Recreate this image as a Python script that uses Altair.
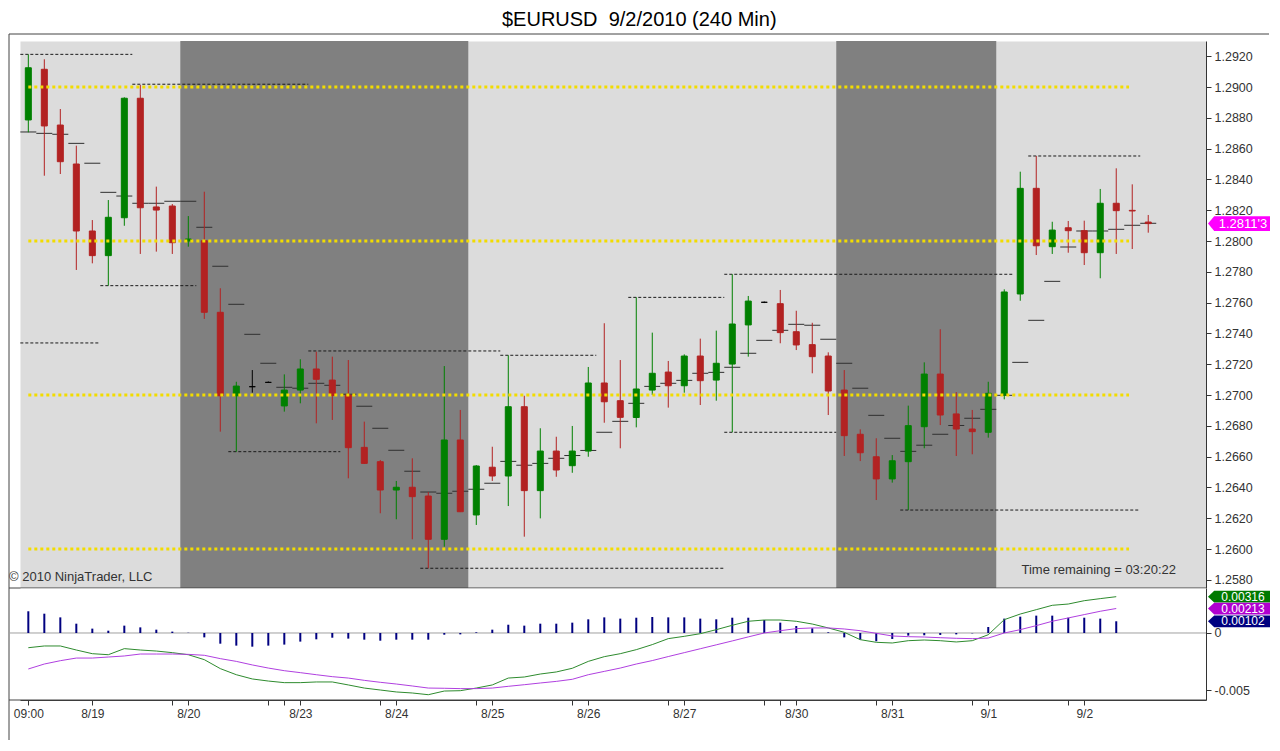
import altair as alt
import pandas as pd

# ---------------- data ----------------
bar_index = list(range(71))

opens = [1.28786, 1.29115, 1.28753, 1.28500, 1.28065, 1.27905, 1.28151, 1.28927, 1.28221, 1.28227,
         1.28000, 1.28002, 1.27537, 1.26995, 1.27054, 1.27082, 1.26929, 1.27032, 1.27169, 1.27097,
         1.27000, 1.26660, 1.26567, 1.26383, 1.26401, 1.26344, 1.26063, 1.26708, 1.26221, 1.26531,
         1.26474, 1.26924, 1.26379, 1.26636, 1.26541, 1.26636, 1.27078, 1.26963, 1.26854, 1.27032,
         1.27149, 1.27060, 1.27253, 1.27097, 1.27201, 1.27455, 1.27602, 1.27593, 1.27411, 1.27327,
         1.27253, 1.27032, 1.26745, 1.26599, 1.26455, 1.26567, 1.26794, 1.27136, 1.26877, 1.26779,
         1.26758, 1.27000, 1.27656, 1.28342, 1.27963, 1.28086, 1.28067, 1.27924, 1.28245, 1.28199, 1.28123]

highs = [1.29212, 1.29180, 1.28857, 1.28619, 1.28136, 1.28266, 1.28933, 1.29013, 1.28353, 1.28240,
         1.28162, 1.28320, 1.27693, 1.27086, 1.27162, 1.27088, 1.27134, 1.27232, 1.27281, 1.27249,
         1.27227, 1.26827, 1.26578, 1.26442, 1.26589, 1.26370, 1.27188, 1.26903, 1.26545, 1.26664,
         1.27258, 1.26995, 1.26784, 1.26729, 1.26799, 1.27182, 1.27466, 1.27227, 1.27634, 1.27405,
         1.27221, 1.27264, 1.27366, 1.27418, 1.27784, 1.27643, 1.27607, 1.27682, 1.27547, 1.27469,
         1.27277, 1.27162, 1.26777, 1.26719, 1.26610, 1.26931, 1.27212, 1.27427, 1.27019, 1.26903,
         1.27086, 1.27686, 1.28450, 1.28552, 1.28125, 1.28130, 1.28132, 1.28338, 1.28472, 1.28368, 1.28169]

lows = [1.28706, 1.28424, 1.28435, 1.27812, 1.27855, 1.27710, 1.28099, 1.27916, 1.27931, 1.27916,
        1.27963, 1.27494, 1.26762, 1.26632, 1.27015, 1.27078, 1.26892, 1.26946, 1.26816, 1.26838,
        1.26459, 1.26552, 1.26232, 1.26193, 1.26063, 1.25875, 1.26015, 1.26240, 1.26156, 1.26442,
        1.26279, 1.26080, 1.26199, 1.26469, 1.26495, 1.26599, 1.26820, 1.26654, 1.26790, 1.27000,
        1.26918, 1.27015, 1.26935, 1.26963, 1.26758, 1.27249, 1.27597, 1.27336, 1.27292, 1.27141,
        1.26870, 1.26604, 1.26571, 1.26318, 1.26431, 1.26253, 1.26654, 1.26805, 1.26604, 1.26615,
        1.26723, 1.26972, 1.27612, 1.27909, 1.27916, 1.27924, 1.27844, 1.27758, 1.27916, 1.27948, 1.28054]

closes = [1.29125, 1.28747, 1.28515, 1.28065, 1.27905, 1.28154, 1.28927, 1.28216, 1.28201, 1.27989,
          1.28013, 1.27537, 1.26995, 1.27058, 1.27054, 1.27082, 1.27032, 1.27169, 1.27102, 1.26997,
          1.26658, 1.26556, 1.26383, 1.26401, 1.26340, 1.26063, 1.26708, 1.26242, 1.26539, 1.26474,
          1.26924, 1.26379, 1.26636, 1.26513, 1.26636, 1.27078, 1.26956, 1.26855, 1.27039, 1.27141,
          1.27060, 1.27253, 1.27093, 1.27206, 1.27461, 1.27610, 1.27602, 1.27405, 1.27325, 1.27249,
          1.27026, 1.26736, 1.26625, 1.26455, 1.26573, 1.26801, 1.27136, 1.26870, 1.26779, 1.26762,
          1.27011, 1.27669, 1.28342, 1.27969, 1.28071, 1.28067, 1.27924, 1.28245, 1.28197, 1.28195, 1.28113]

# short per-bar indicator dashes
dash_level = [1.28708, 1.28699, 1.28693, 1.28634, 1.28505, 1.28316, 1.28292, 1.28245, 1.28245, 1.28258,
              1.28258, 1.28089, 1.27836, 1.27589, 1.27394, 1.27206, 1.27050, 1.27044, 1.27076, 1.27063,
              1.27005, 1.26927, 1.26784, 1.26641, 1.26505, 1.26370, 1.26362, 1.26375, 1.26388, 1.26427,
              1.26569, 1.26544, 1.26556, 1.26589, 1.26607, 1.26640, 1.26758, 1.26829, 1.26946, 1.27056,
              1.27076, 1.27095, 1.27141, 1.27147, 1.27180, 1.27271, 1.27355, 1.27420, 1.27459, 1.27453,
              1.27362, 1.27206, 1.27044, 1.26868, 1.26719, 1.26634, 1.26674, 1.26745, 1.26802, 1.26849,
              1.26907, 1.26998, 1.27212, 1.27485, 1.27738, 1.27961, 1.28065, 1.28065, 1.28076, 1.28102, 1.28115]

# dashed session high / low levels
level_price = [1.29212, 1.29018, 1.27710, 1.27338, 1.26632, 1.27286, 1.25875,
               1.27258, 1.27634, 1.27784, 1.26758, 1.26253, 1.28552]
level_from = [-0.5, 6.5, 4.5, -0.5, 12.5, 17.5, 24.5, 29.5, 37.5, 43.5, 43.5, 54.5, 62.5]
level_to = [6.5, 17.5, 10.5, 4.5, 19.5, 29.5, 43.5, 35.5, 43.5, 61.5, 50.5, 69.5, 69.5]

# yellow round-number lines
round_levels = [1.29, 1.28, 1.27, 1.26]

# dark shaded sessions (bar index spans)
session_from = [9.5, 50.5]
session_to = [27.5, 60.5]

# MACD panel
macd_hist = [0.00189, 0.00168, 0.00136, 0.00081, 0.00038, 0.00020, 0.00064, 0.00049, 0.00029, 0.00012,
             0.00002, -0.00038, -0.00093, -0.00110, -0.00119, -0.00110, -0.00101, -0.00075, -0.00055, -0.00041,
             -0.00049, -0.00058, -0.00067, -0.00058, -0.00058, -0.00058, -0.00015, -0.00012, 0.00006, 0.00029,
             0.00072, 0.00064, 0.00081, 0.00081, 0.00090, 0.00119, 0.00136, 0.00125, 0.00133, 0.00139,
             0.00136, 0.00136, 0.00125, 0.00119, 0.00133, 0.00133, 0.00113, 0.00090, 0.00061, 0.00041,
             0.00006, -0.00038, -0.00058, -0.00072, -0.00052, -0.00023, -0.00020, -0.00017, -0.00012, -0.00003,
             0.00052, 0.00125, 0.00142, 0.00151, 0.00151, 0.00133, 0.00133, 0.00125, 0.00102]
macd_line = [-0.00128, -0.00113, -0.00113, -0.00148, -0.00180, -0.00189, -0.00136, -0.00148, -0.00157, -0.00171,
             -0.00189, -0.00232, -0.00310, -0.00363, -0.00400, -0.00418, -0.00432, -0.00432, -0.00426, -0.00426,
             -0.00452, -0.00479, -0.00496, -0.00513, -0.00522, -0.00537, -0.00505, -0.00502, -0.00479, -0.00452,
             -0.00392, -0.00383, -0.00357, -0.00339, -0.00307, -0.00247, -0.00206, -0.00180, -0.00145, -0.00101,
             -0.00049, -0.00029, -0.00006, 0.00029, 0.00067, 0.00102, 0.00113, 0.00113, 0.00102, 0.00078,
             0.00044, 0.00006, -0.00058, -0.00081, -0.00087, -0.00067, -0.00061, -0.00067, -0.00078, -0.00067,
             -0.00015, 0.00116, 0.00165, 0.00203, 0.00241, 0.00252, 0.00281, 0.00299, 0.00316]
macd_signal = [-0.00313, -0.00270, -0.00241, -0.00218, -0.00218, -0.00209, -0.00200, -0.00183, -0.00183, -0.00183,
               -0.00186, -0.00194, -0.00223, -0.00247, -0.00278, -0.00305, -0.00328, -0.00345, -0.00363, -0.00380,
               -0.00392, -0.00412, -0.00429, -0.00444, -0.00461, -0.00479, -0.00481, -0.00484, -0.00484, -0.00479,
               -0.00464, -0.00450, -0.00435, -0.00421, -0.00403, -0.00363, -0.00334, -0.00305, -0.00270, -0.00240,
               -0.00205, -0.00171, -0.00137, -0.00103, -0.00069, -0.00034, 0.00000, 0.00020, 0.00038, 0.00044,
               0.00044, 0.00035, 0.00020, -0.00003, -0.00026, -0.00032, -0.00035, -0.00041, -0.00046, -0.00049,
               -0.00044, 0.00000, 0.00029, 0.00064, 0.00102, 0.00131, 0.00160, 0.00189, 0.00213]

# axis ticks and labels
price_ticks = [1.2580, 1.2600, 1.2620, 1.2640, 1.2660, 1.2680, 1.2700, 1.2720, 1.2740,
               1.2760, 1.2780, 1.2800, 1.2820, 1.2840, 1.2860, 1.2880, 1.2900, 1.2920]
macd_ticks = [0, -0.005]
tick_bars = [0, 4, 9, 10, 15, 16, 17, 22, 23, 28, 29, 34, 35, 40, 41, 46, 47, 48, 53, 54, 59, 60, 65, 66]
label_bars = [0, 4, 10, 17, 23, 29, 35, 41, 48, 54, 60, 66]
label_texts = ["09:00", "8/19", "8/20", "8/23", "8/24", "8/25", "8/26", "8/27", "8/30", "8/31", "9/1", "9/2"]

title_text = "$EURUSD\u00a0 9/2/2010 (240 Min)"
copyright_text = "\u00a9 2010 NinjaTrader, LLC"
timer_text = "Time remaining = 03:20:22"

# ---------------- tables ----------------
candles = pd.DataFrame({"i": bar_index, "o": opens, "h": highs, "l": lows, "c": closes, "d": dash_level})
candles["dir"] = ["up" if c > o else ("down" if c < o else "flat") for o, c in zip(opens, closes)]
levels = pd.DataFrame({"p": level_price, "a": level_from, "b": level_to})
rounds = pd.DataFrame({"p": round_levels})
sessions = pd.DataFrame({"a": session_from, "b": session_to})
macd = pd.DataFrame({"i": list(range(len(macd_hist))), "hist": macd_hist,
                     "macd": macd_line, "sig": macd_signal})

last_close = closes[-1]
s = f"{last_close:.5f}"
last_tag = pd.DataFrame({"v": [last_close], "lab": [s[:-1] + "'" + s[-1]]})
macd_tags = pd.DataFrame({
    "v": [macd_line[-1], macd_signal[-1], macd_hist[-1]],
    "lab": [f"{macd_line[-1]:.5f}", f"{macd_signal[-1]:.5f}", f"{macd_hist[-1]:.5f}"],
    "col": ["#007A00", "#B000D0", "#000080"],
})

# ---------------- layout / style ----------------
W, H, H2 = 1186, 547, 112
FONT = "Liberation Sans"
GREEN, RED = "#008000", "#B22222"
TXT = "#333333"

XS = alt.Scale(domain=[-0.52, 73.61], nice=False, zero=False, padding=0)
YS = alt.Scale(domain=[1.257468, 1.292987], nice=False, zero=False, padding=0)
Y2S = alt.Scale(domain=[-0.00583, 0.003915], nice=False, zero=False, padding=0)

y_axis = alt.Axis(orient="right", values=price_ticks, format=".4f", tickSize=5, labelPadding=3,
                  labelFontSize=12.5, labelColor=TXT, tickColor=TXT, domainColor=TXT,
                  grid=False, title=None, labelOverlap=False)
y2_axis = alt.Axis(orient="right", values=macd_ticks,
                   labelExpr="datum.value == 0 ? '0' : '-' + format(abs(datum.value), '.3f')",
                   tickSize=5, labelPadding=3, labelFontSize=12.5, labelColor=TXT, tickColor=TXT,
                   domainColor=TXT, grid=False, title=None, labelOverlap=False)
x2_axis = alt.Axis(values=tick_bars,
                   labelExpr=(f"indexof({label_bars}, datum.value) >= 0 ? "
                              f"{label_texts}[indexof({label_bars}, datum.value)] : ''"),
                   tickSize=5, labelPadding=3, labelFontSize=12, labelColor=TXT, tickColor=TXT,
                   domainColor=TXT, grid=False, title=None, labelOverlap=False, labelFlush=False)

dir_color = alt.Scale(domain=["up", "down", "flat"], range=[GREEN, RED, "#000000"])

def X(field):
    return alt.X(field, scale=XS, axis=None)

def Y(field):
    return alt.Y(field, scale=YS, axis=y_axis)

shade = alt.Chart(sessions).mark_rect(color="#808080").encode(
    x=X("a:Q"), x2="b:Q", y=alt.value(0), y2=alt.value(H))

level_lines = alt.Chart(levels).mark_rule(color="#1A1A1A", strokeWidth=1, strokeDash=[3, 2]).encode(
    x=X("a:Q"), x2="b:Q", y=Y("p:Q"))

dashes = alt.Chart(candles).transform_calculate(
    a="datum.i - 0.5", b="datum.i + 0.5").mark_rule(color="#303030", strokeWidth=1).encode(
    x=X("a:Q"), x2="b:Q", y=Y("d:Q"))

wicks = alt.Chart(candles).mark_rule(strokeWidth=1).encode(
    x=X("i:Q"), y=Y("l:Q"), y2="h:Q",
    color=alt.Color("dir:N", scale=dir_color, legend=None))

bodies = alt.Chart(candles).mark_bar(size=6, strokeWidth=1).encode(
    x=X("i:Q"), y=Y("o:Q"), y2="c:Q",
    color=alt.Color("dir:N", scale=dir_color, legend=None),
    stroke=alt.Stroke("dir:N", scale=dir_color, legend=None))

yellow = alt.Chart(rounds).mark_rule(color="#F2DC00", strokeWidth=3, strokeDash=[3, 3]).encode(
    x=alt.X("s:Q", scale=XS, axis=None), x2="e:Q", y=Y("p:Q")
).transform_calculate(s="0", e="68.8")

copyright_mark = alt.Chart(pd.DataFrame({"t": [copyright_text]})).mark_text(
    align="left", baseline="middle", fontSize=13, color=TXT, font=FONT).encode(
    x=alt.value(-11), y=alt.value(H - 11), text="t:N")

timer_mark = alt.Chart(pd.DataFrame({"t": [timer_text]})).mark_text(
    align="right", baseline="middle", fontSize=13, color=TXT, font=FONT).encode(
    x=alt.value(1156), y=alt.value(H - 18), text="t:N")

TAG_MAIN = "M-1,0L-0.8,-0.24L1,-0.24L1,0.24L-0.8,0.24Z"
TAG_SMALL = "M-1,0L-0.8,-0.19L1,-0.19L1,0.19L-0.8,0.19Z"

price_tag = alt.Chart(last_tag).mark_point(shape=TAG_MAIN, size=3844, filled=True, opacity=1,
                                           color="#FF00FF", strokeWidth=0).encode(
    x=alt.value(W + 33), y=Y("v:Q"))
price_tag_text = alt.Chart(last_tag).mark_text(color="white", fontSize=13, font=FONT,
                                                align="center", baseline="middle").encode(
    x=alt.value(W + 37), y=Y("v:Q"), text="lab:N")

frame = pd.DataFrame({"k": [0]})
top_line = alt.Chart(frame).mark_rule(color="#444444", strokeWidth=1).encode(
    x=alt.value(-11), x2=alt.value(1249), y=alt.value(-7))
sep_line = alt.Chart(frame).mark_rule(color="#444444", strokeWidth=1).encode(
    x=alt.value(-11), x2=alt.value(W), y=alt.value(H))
left_line = alt.Chart(frame).mark_rule(color="#444444", strokeWidth=1).encode(
    x=alt.value(-11), y=alt.value(-7), y2=alt.value(H + H2 + 40))

main = alt.layer(
    shade, level_lines, dashes, wicks, bodies, yellow,
    copyright_mark, timer_mark, price_tag, price_tag_text,
    top_line, sep_line, left_line,
).properties(width=W, height=H, view=alt.ViewBackground(fill="#DCDCDC", stroke="transparent"))

# ---------------- MACD panel ----------------
def Y2(field):
    return alt.Y(field, scale=Y2S, axis=y2_axis)

def X2(field):
    return alt.X(field, scale=XS, axis=x2_axis)

zero_line = alt.Chart(frame).mark_rule(color="#A0A0A0", strokeWidth=1).encode(
    x=alt.value(-11), x2=alt.value(W), y=alt.datum(0))
base_line = alt.Chart(frame).mark_rule(color="#444444", strokeWidth=1).encode(
    x=alt.value(-11), x2=alt.value(W), y=alt.value(H2))

hist = alt.Chart(macd).mark_rule(color="#000080", strokeWidth=2).encode(
    x=X2("i:Q"), y=Y2("hist:Q"), y2=alt.datum(0))
line_macd = alt.Chart(macd).mark_line(color="#2E8B2E", strokeWidth=1).encode(
    x=X2("i:Q"), y=Y2("macd:Q"))
line_sig = alt.Chart(macd).mark_line(color="#B040E0", strokeWidth=1).encode(
    x=X2("i:Q"), y=Y2("sig:Q"))

tags = alt.Chart(macd_tags).mark_point(shape=TAG_SMALL, size=3844, filled=True, opacity=1,
                                       strokeWidth=0).encode(
    x=alt.value(W + 33), y=Y2("v:Q"), color=alt.Color("col:N", scale=None))
tags_text = alt.Chart(macd_tags).mark_text(color="white", fontSize=12, font=FONT,
                                           align="center", baseline="middle").encode(
    x=alt.value(W + 37), y=Y2("v:Q"), text="lab:N")

lower = alt.layer(zero_line, hist, line_macd, line_sig, base_line, tags, tags_text).properties(
    width=W, height=H2, view=alt.ViewBackground(fill="white", stroke="transparent"))

chart = alt.vconcat(main, lower, spacing=0, bounds="flush").properties(
    padding={"left": 0, "top": 2, "right": 0, "bottom": 0},
    title=alt.TitleParams(text=title_text, fontSize=20, font=FONT, fontWeight="normal",
                          color="#000000", anchor="middle", offset=3),
).configure(font=FONT)

chart.save("out.html", embed_options={"renderer": "svg", "actions": False})
